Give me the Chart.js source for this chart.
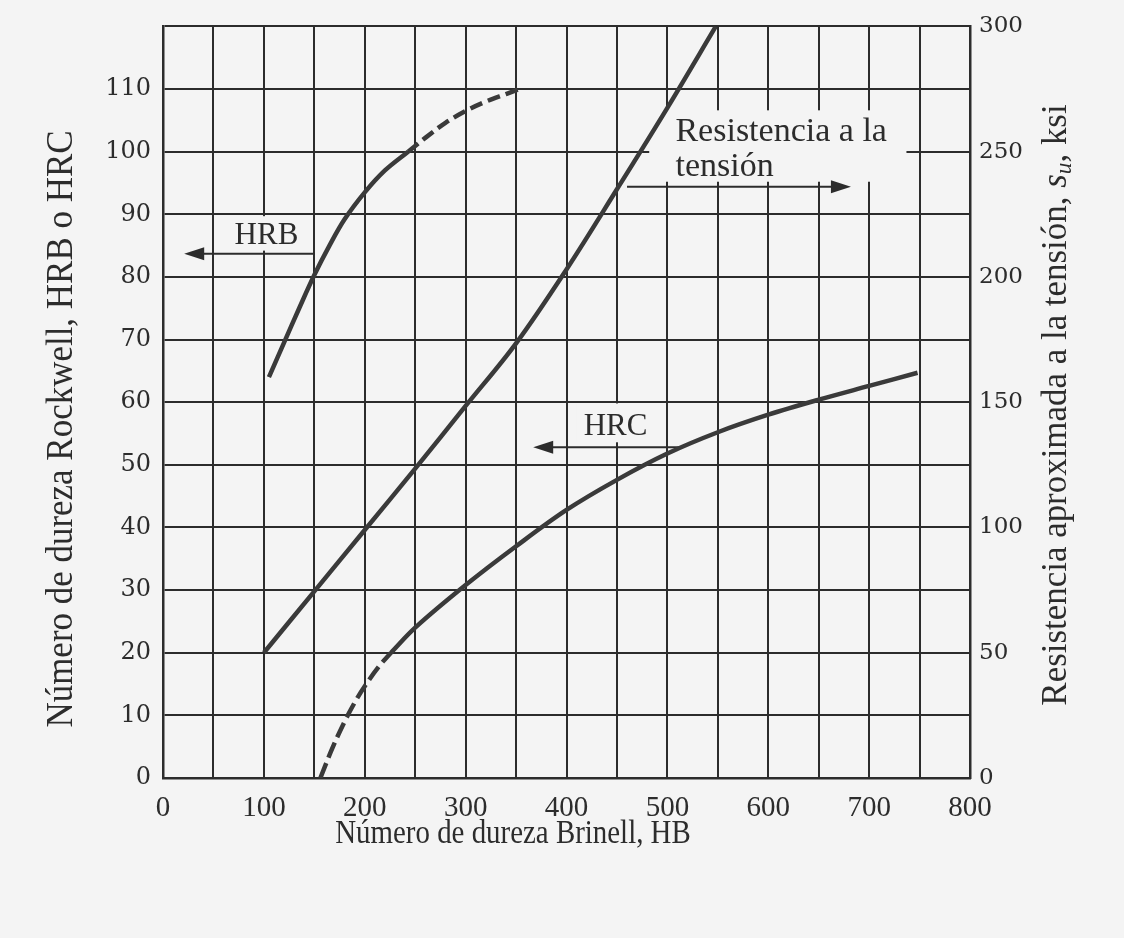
<!DOCTYPE html>
<html lang="es">
<head>
<meta charset="UTF-8">
<title>Dureza Brinell vs Rockwell y resistencia</title>
<script src="https://cdn.jsdelivr.net/npm/chart.js"></script>
<style>
    html, body {
        margin: 0;
        padding: 0;
        background: #f4f4f4;
    }

    #wrap {
        width: 1124px;
        height: 938px;
        position: relative;
    }
</style>
</head>
<body>
<div id="wrap"><canvas id="hardness"></canvas></div>

<script>
    // Brinell hardness (HB) against value
    const hrbHB = [105, 120, 135, 150, 165, 180, 200, 220, 243];
    const hrbVal = [64, 69.5, 75, 80.3, 85, 89.2, 93.5, 97, 100];
    const hrbExtHB = [243, 260, 280, 300, 320, 340, 357];
    const hrbExtVal = [100, 102.2, 104.6, 106.5, 108, 109.2, 110.2];

    const hrcExtHB = [156, 168, 180, 192, 204, 215, 226];
    const hrcExtVal = [0, 4.8, 9, 12.6, 15.6, 18, 20];
    const hrcHB = [226, 250, 300, 350, 400, 450, 500, 550, 600, 650, 700, 748];
    const hrcVal = [20, 24, 30.8, 37, 42.8, 47.6, 51.8, 55.2, 58, 60.4, 62.6, 64.7];

    const suHB = [100, 150, 200, 250, 300, 350, 400, 450, 500, 548];
    const suKsi = [50, 74.5, 99, 123.5, 148.5, 173.5, 203, 235, 267.5, 300];

    const xTicks = [0, 100, 200, 300, 400, 500, 600, 700, 800];
    const leftTicks = [0, 10, 20, 30, 40, 50, 60, 70, 80, 90, 100, 110];
    const rightTicks = [0, 50, 100, 150, 200, 250, 300];

    const INK = '#2c2c2c';
    const PAPER = '#f4f4f4';
    const SERIF = "'Liberation Serif', 'Times New Roman', serif";
    const WIDE_SERIF = "'DejaVu Serif', serif";

    const pts = (xs, ys) => xs.map((x, i) => ({x: x, y: ys[i]}));

    // label boxes and arrows, in data units (HB, HRC)
    const notes = [
        {lines: ['HRB'], hb: 71, hr: [85.2], size: 31, box: [64, 138, 84.2, 89.7], arrow: [150, 21, 83.7]},
        {lines: ['Resistencia a la', 'tensión'], hb: 508, hr: [101.7, 96.1], size: 34,
            box: [482, 737, 95.2, 106.6], arrow: [460, 682, 94.4]},
        {lines: ['HRC'], hb: 417, hr: [54.8], size: 31, box: [410, 490, 53.6, 59.8], arrow: [513, 367, 52.8]}
    ];

    function drawArrow(ctx, x1, x2, y) {
        const dir = x2 > x1 ? 1 : -1;
        ctx.strokeStyle = INK;
        ctx.fillStyle = INK;
        ctx.lineWidth = 2;
        ctx.beginPath();
        ctx.moveTo(x1, y);
        ctx.lineTo(x2 - dir * 12, y);
        ctx.stroke();
        ctx.beginPath();
        ctx.moveTo(x2, y);
        ctx.lineTo(x2 - dir * 20, y - 6.5);
        ctx.lineTo(x2 - dir * 20, y + 6.5);
        ctx.closePath();
        ctx.fill();
    }

    const notePlugin = {
        id: 'notes',
        beforeDraw(chart) {
            const ctx = chart.ctx;
            ctx.save();
            ctx.fillStyle = PAPER;
            ctx.fillRect(0, 0, chart.width, chart.height);
            ctx.restore();
        },
        beforeDatasetsDraw(chart) {
            const ctx = chart.ctx;
            const xs = chart.scales.x, ys = chart.scales.y;
            ctx.save();
            notes.forEach(n => {
                const bx1 = xs.getPixelForValue(n.box[0]), bx2 = xs.getPixelForValue(n.box[1]);
                const by1 = ys.getPixelForValue(n.box[3]), by2 = ys.getPixelForValue(n.box[2]);
                ctx.fillStyle = PAPER;
                ctx.fillRect(bx1, by1, bx2 - bx1, by2 - by1);

                ctx.fillStyle = INK;
                ctx.font = n.size + 'px ' + SERIF;
                ctx.textAlign = 'left';
                ctx.textBaseline = 'alphabetic';
                n.lines.forEach((t, i) => {
                    ctx.fillText(t, xs.getPixelForValue(n.hb), ys.getPixelForValue(n.hr[i]));
                });
                drawArrow(ctx, xs.getPixelForValue(n.arrow[0]), xs.getPixelForValue(n.arrow[1]),
                    ys.getPixelForValue(n.arrow[2]));
            });
            ctx.restore();
        }
    };

    // titles are drawn by hand: condensed type, and the right one reads upward with s_u
    function titleText(ctx, parts, cx, cy, angle, squeeze) {
        ctx.save();
        ctx.translate(cx, cy);
        ctx.rotate(angle);
        ctx.scale(squeeze, 1);
        ctx.textBaseline = 'middle';
        ctx.textAlign = 'left';
        ctx.fillStyle = INK;
        let total = 0;
        parts.forEach(p => {
            ctx.font = p.font;
            p.w = ctx.measureText(p.text).width;
            total += p.w;
        });
        let x = -total / 2;
        parts.forEach(p => {
            ctx.font = p.font;
            ctx.fillText(p.text, x, p.dy || 0);
            x += p.w;
        });
        ctx.restore();
    }

    const titlePlugin = {
        id: 'titles',
        afterDraw(chart) {
            const ctx = chart.ctx;
            titleText(ctx, [{text: 'Número de dureza Brinell, HB', font: '34px ' + SERIF}],
                513, 834, 0, 0.85);
            titleText(ctx, [{text: 'Número de dureza Rockwell, HRB o HRC', font: '38px ' + SERIF}],
                62, 429, -Math.PI / 2, 0.92);
            titleText(ctx, [
                {text: 'Resistencia aproximada a la tensión, ', font: '36px ' + SERIF},
                {text: 's', font: 'italic 36px ' + SERIF},
                {text: 'u', font: 'italic 24px ' + SERIF, dy: 8},
                {text: ', ksi', font: '36px ' + SERIF}
            ], 1057, 405, -Math.PI / 2, 0.97);
        }
    };

    new Chart(document.getElementById('hardness').getContext('2d'), {
        type: 'line',
        data: {
            datasets: [
                {label: 'HRB', data: pts(hrbHB, hrbVal), yAxisID: 'y'},
                {label: 'HRB (extrapolada)', data: pts(hrbExtHB, hrbExtVal), yAxisID: 'y', borderDash: [13, 6]},
                {label: 'HRC (extrapolada)', data: pts(hrcExtHB, hrcExtVal), yAxisID: 'y', borderDash: [16, 6]},
                {label: 'HRC', data: pts(hrcHB, hrcVal), yAxisID: 'y'},
                {label: 'Resistencia a la tensión', data: pts(suHB, suKsi), yAxisID: 'y2'}
            ]
        },
        options: {
            responsive: true,
            maintainAspectRatio: false,
            animation: false,
            layout: {padding: {top: 13, left: 0, right: 0, bottom: 0}},
            elements: {
                line: {borderColor: '#3a3a3a', borderWidth: 4.5, tension: 0.35, fill: false,
                    borderCapStyle: 'butt'},
                point: {radius: 0, hoverRadius: 0}
            },
            plugins: {
                legend: {display: false},
                tooltip: {enabled: false}
            },
            scales: {
                x: {
                    type: 'linear',
                    min: 0,
                    max: 800,
                    afterFit: s => { s.height = 160; },
                    afterBuildTicks: s => {
                        const t = [];
                        for (let v = 0; v <= 800; v += 50) t.push({value: v});
                        s.ticks = t;
                    },
                    ticks: {
                        autoSkip: false,
                        maxRotation: 0,
                        padding: 13,
                        color: INK,
                        font: {family: SERIF, size: 29},
                        callback: v => xTicks.includes(v) ? String(v) : ''
                    },
                    grid: {color: INK, lineWidth: 2, drawTicks: false},
                    border: {display: true, color: INK, width: 2.5}
                },
                y: {
                    position: 'left',
                    min: 0,
                    max: 120,
                    afterFit: s => { s.width = 163; },
                    afterBuildTicks: s => {
                        const t = [];
                        for (let v = 0; v <= 120; v += 10) t.push({value: v});
                        s.ticks = t;
                    },
                    ticks: {
                        autoSkip: false,
                        padding: 12,
                        color: INK,
                        font: {family: WIDE_SERIF, size: 24},
                        callback: v => leftTicks.includes(v) ? String(v) : ''
                    },
                    grid: {color: INK, lineWidth: 2, drawTicks: false},
                    border: {display: true, color: INK, width: 2.5}
                },
                y2: {
                    position: 'right',
                    min: 0,
                    max: 300,
                    afterFit: s => { s.width = 154; },
                    afterBuildTicks: s => {
                        s.ticks = rightTicks.map(v => ({value: v}));
                    },
                    ticks: {
                        autoSkip: false,
                        padding: 9,
                        color: INK,
                        font: {family: WIDE_SERIF, size: 23}
                    },
                    grid: {display: false, drawTicks: false},
                    border: {display: true, color: INK, width: 2.5}
                }
            }
        },
        plugins: [notePlugin, titlePlugin]
    });
</script>
</body>
</html>
